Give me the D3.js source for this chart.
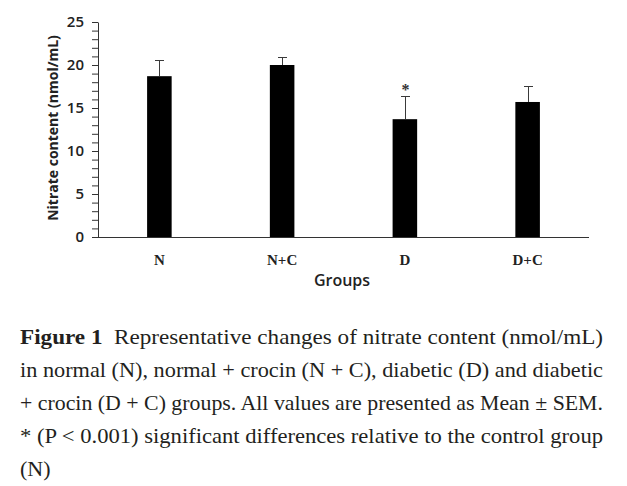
<!DOCTYPE html>
<html>
<head>
<meta charset="utf-8">
<script src="https://cdn.jsdelivr.net/npm/d3@7"></script>
<style>
    body { margin: 0; background: #fff; }
    svg { display: block; }
</style>
</head>
<body>
<div id="content"></div>
<script>
// data
const groups = ["N", "N+C", "D", "D+C"];
const means = [18.7, 20.0, 13.7, 15.7];
const sems = [1.9, 0.9, 2.7, 1.9];
const signif = ["", "", "*", ""];
const yTicks = [0, 5, 10, 15, 20, 25];

const captionBold = "Figure 1";
const captionLines = [
    "Representative changes of nitrate content (nmol/mL)",
    "in normal (N), normal + crocin (N + C), diabetic (D) and diabetic",
    "+ crocin (D + C) groups. All values are presented as Mean \u00b1 SEM.",
    "* (P < 0.001) significant differences relative to the control group",
    "(N)"
];

const width = 627, height = 486;
const margin = { top: 22, right: 38, left: 98 };
const plotBottom = 237;

const svg = d3.select("#content").append("svg")
    .attr("width", width)
    .attr("height", height);

const x = d3.scaleBand()
    .domain(groups)
    .range([margin.left, width - margin.right])
    .paddingInner(0.8)
    .paddingOuter(0.4);

const y = d3.scaleLinear()
    .domain([0, 25])
    .range([plotBottom, margin.top]);

// bars
svg.append("g")
    .selectAll("rect")
    .data(groups)
    .enter()
    .append("rect")
    .attr("x", d => x(d))
    .attr("width", x.bandwidth())
    .attr("y", (d, i) => y(means[i]))
    .attr("height", (d, i) => y(0) - y(means[i]))
    .attr("fill", "#000");

// error bars (upper half only)
const err = svg.append("g").attr("stroke", "#3a3a3a").attr("stroke-width", 1);
groups.forEach((g, i) => {
    const cx = Math.round(x(g) + x.bandwidth() / 2) + 0.5;
    const top = Math.round(y(means[i] + sems[i])) + 0.5;
    err.append("line")
        .attr("x1", cx).attr("x2", cx)
        .attr("y1", y(means[i])).attr("y2", top);
    err.append("line")
        .attr("x1", cx - 4.5).attr("x2", cx + 4.5)
        .attr("y1", top).attr("y2", top);
    if (signif[i]) {
        svg.append("text")
            .attr("x", cx)
            .attr("y", top - 2)
            .attr("text-anchor", "middle")
            .attr("font-family", "Liberation Serif, serif")
            .attr("font-weight", "bold")
            .attr("font-size", 16)
            .attr("fill", "#333")
            .text(signif[i]);
    }
});

// y axis with minor ticks every unit
const yAxisG = svg.append("g")
    .attr("transform", `translate(${margin.left},0)`)
    .call(d3.axisLeft(y).tickValues(d3.range(0, 26, 1)).tickSize(6).tickSizeOuter(0)
        .tickFormat(d => yTicks.includes(d) ? d : ""));
yAxisG.select(".domain").attr("stroke", "#333");
yAxisG.selectAll(".tick line").attr("stroke", "#333");
yAxisG.selectAll(".tick text")
    .attr("x", -14)
    .attr("font-family", "Open Sans, sans-serif")
    .attr("font-weight", 600)
    .attr("font-size", 15)
    .attr("fill", "#222");

// x axis
const xAxisG = svg.append("g")
    .attr("transform", `translate(0,${plotBottom})`)
    .call(d3.axisBottom(x).tickSize(0).tickPadding(17));
xAxisG.select(".domain").attr("stroke", "#333").attr("d", `M${margin.left},0.5H${width - margin.right}`);
xAxisG.selectAll(".tick text")
    .attr("font-family", "Liberation Serif, serif")
    .attr("font-weight", "bold")
    .attr("font-size", 15)
    .attr("fill", "#222");

// axis titles
svg.append("text")
    .attr("transform", `translate(58,128) rotate(-90)`)
    .attr("text-anchor", "middle")
    .attr("font-family", "Open Sans, sans-serif")
    .attr("font-weight", "bold")
    .attr("font-size", 14)
    .attr("fill", "#222")
    .text("Nitrate content (nmol/mL)");

svg.append("text")
    .attr("x", 342)
    .attr("y", 286)
    .attr("text-anchor", "middle")
    .attr("font-family", "Open Sans, sans-serif")
    .attr("font-weight", 600)
    .attr("font-size", 16)
    .attr("fill", "#222")
    .text("Groups");

// caption
const cap = svg.append("g")
    .attr("font-family", "Liberation Serif, serif")
    .attr("font-size", 22)
    .attr("fill", "#231f20");
const capLeft = 20, capRight = 603, lineH = 33, firstBase = 344;

const line1 = cap.append("text").attr("x", capLeft).attr("y", firstBase);
line1.append("tspan").attr("font-weight", "bold").text(captionBold);
line1.append("tspan").text("\u2002" + captionLines[0]);
line1.attr("textLength", capRight - capLeft).attr("lengthAdjust", "spacingAndGlyphs");

captionLines.slice(1).forEach((t, i) => {
    const el = cap.append("text")
        .attr("x", capLeft)
        .attr("y", firstBase + lineH * (i + 1))
        .text(t);
    if (i < captionLines.length - 2) {
        el.attr("textLength", capRight - capLeft).attr("lengthAdjust", "spacingAndGlyphs");
    }
});
</script>
</body>
</html>
